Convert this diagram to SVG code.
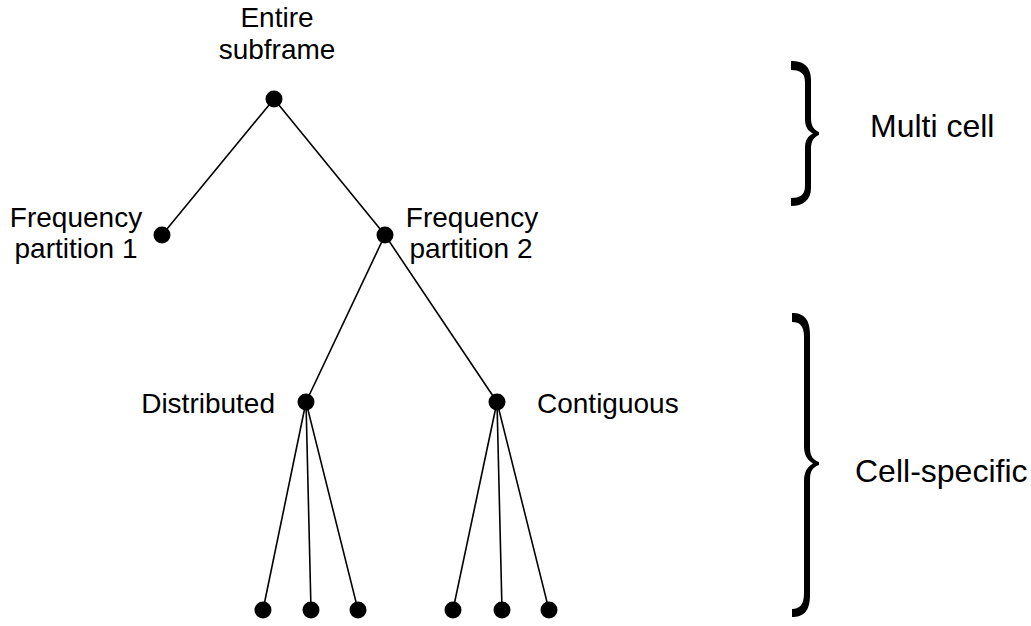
<svg xmlns="http://www.w3.org/2000/svg" width="1031" height="626" viewBox="0 0 1031 626">
  <style>
    .edge { stroke: #000; stroke-width: 1.6; fill: none; }
    .dot { fill: #000; }
    .lbl { font-family: "Liberation Sans", Arial, sans-serif; font-size: 28px; fill: #000; }
    .big { font-family: "Liberation Sans", Arial, sans-serif; font-size: 32px; fill: #000; }
    .brace { fill: #000; }
  </style>
  <rect width="1031" height="626" fill="#fff"/>

  <!-- tree edges -->
  <g id="connectors">
    <line class="edge" x1="274" y1="99" x2="162" y2="235"/>
    <line class="edge" x1="274" y1="99" x2="385" y2="235"/>
    <line class="edge" x1="385" y1="235" x2="306" y2="402"/>
    <line class="edge" x1="385" y1="235" x2="497" y2="402"/>
    <line class="edge" x1="306" y1="402" x2="263" y2="610"/>
    <line class="edge" x1="306" y1="402" x2="311" y2="610"/>
    <line class="edge" x1="306" y1="402" x2="358" y2="610"/>
    <line class="edge" x1="497" y1="402" x2="453" y2="610"/>
    <line class="edge" x1="497" y1="402" x2="502" y2="610"/>
    <line class="edge" x1="497" y1="402" x2="549" y2="610"/>
  </g>

  <g id="root">
    <circle class="dot" cx="274" cy="99" r="8.5"/>
    <text class="lbl" x="277" y="27" text-anchor="middle">Entire</text>
    <text class="lbl" x="277" y="59" text-anchor="middle">subframe</text>
  </g>

  <g id="partition1">
    <circle class="dot" cx="162" cy="235" r="8.5"/>
    <text class="lbl" x="76" y="227" text-anchor="middle">Frequency</text>
    <text class="lbl" x="76" y="258" text-anchor="middle">partition 1</text>
  </g>

  <g id="partition2">
    <circle class="dot" cx="385" cy="235" r="8.5"/>
    <text class="lbl" x="472" y="227" text-anchor="middle">Frequency</text>
    <text class="lbl" x="471" y="258" text-anchor="middle">partition 2</text>
  </g>

  <g id="distributed">
    <circle class="dot" cx="306" cy="402" r="8.5"/>
    <text class="lbl" x="275" y="413" text-anchor="end">Distributed</text>
  </g>

  <g id="contiguous">
    <circle class="dot" cx="497" cy="402" r="8.5"/>
    <text class="lbl" x="537" y="413">Contiguous</text>
  </g>

  <g id="leaf-d1"><circle class="dot" cx="263" cy="610" r="8.5"/></g>
  <g id="leaf-d2"><circle class="dot" cx="311" cy="610" r="8.5"/></g>
  <g id="leaf-d3"><circle class="dot" cx="358" cy="610" r="8.5"/></g>
  <g id="leaf-c1"><circle class="dot" cx="453" cy="610" r="8.5"/></g>
  <g id="leaf-c2"><circle class="dot" cx="502" cy="610" r="8.5"/></g>
  <g id="leaf-c3"><circle class="dot" cx="549" cy="610" r="8.5"/></g>

  <!-- scope braces -->
  <g id="multi-cell">
    <path class="brace" d="M791,61 C803,61 811,66 811,80 L811,118 C811,126 814,130 819,132 L819,135 C814,137 811,141 811,149 L811,188 C811,200 803,206 791,206 L791,198 C800,198 805,195 805,186 L805,148 C805,140 808,136 813,133.5 C808,131 805,127 805,119 L805,82 C805,73 800,70 791,70 Z"/>
    <text class="big" x="870" y="137">Multi cell</text>
  </g>

  <g id="cell-specific">
    <path class="brace" d="M792,313 C803,313 810,318 810,335 L810,448 C810,456 813,460 819,462 L819,465 C813,467 810,471 810,479 L810,595 C810,612 803,617 792,617 L792,609 C800,609 804,604 804,593 L804,481 C804,472 807,467 813,463.5 C807,460 804,455 804,446 L804,337 C804,326 800,322 792,322 Z"/>
    <text class="big" x="855" y="482">Cell-specific</text>
  </g>
</svg>
